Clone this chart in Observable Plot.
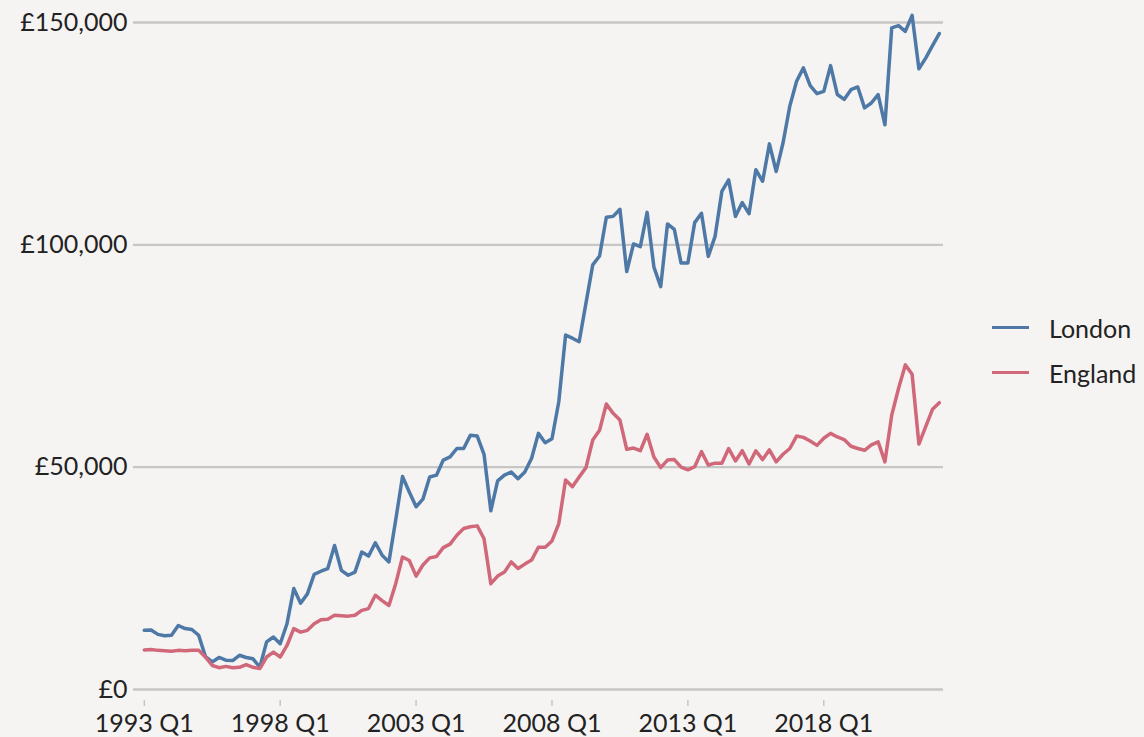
<!DOCTYPE html>
<html>
<head>
<meta charset="utf-8">
<script src="https://cdn.jsdelivr.net/npm/d3@7"></script>
<script src="https://cdn.jsdelivr.net/npm/@observablehq/plot@0.6"></script>
<style>
  html, body { margin: 0; padding: 0; background: #f5f4f2; }
  #wrap { position: relative; width: 1144px; height: 737px; overflow: hidden; font-family: Lato, "Open Sans", sans-serif; color: #222; }
  #legend { position: absolute; left: 992px; top: 305px; }
  .item { display: flex; align-items: center; height: 45px; font-size: 25px; }
  .sw { width: 37px; height: 3.5px; margin-right: 20px; }
</style>
</head>
<body>
<div id="wrap"><div id="chart"></div><div id="legend"></div></div>
<script>
// Quarterly series, 1993 Q1 .. 2022 Q2 (values in £)
const startYear = 1993;
const nQuarters = 118;
const tickLabels = ["1993 Q1", "1998 Q1", "2003 Q1", "2008 Q1", "2013 Q1", "2018 Q1"];
const yTicks = [0, 50000, 100000, 150000];
const seriesNames = ["London", "England"];
const seriesColors = ["#4e79a7", "#d0687a"];

const london = [
  13300, 13400, 12400, 12100, 12200, 14400, 13700, 13500, 12200, 7400,
  6200, 7200, 6600, 6500, 7700, 7200, 6900, 5000, 10700, 11800,
  10300, 14800, 22700, 19400, 21500, 25900, 26600, 27200, 32400, 26800,
  25700, 26400, 30900, 30000, 33000, 30200, 28700, 38100, 47900, 44400,
  41100, 42800, 47800, 48200, 51600, 52300, 54200, 54200, 57200, 57000,
  52900, 40200, 46900, 48200, 48900, 47400, 48900, 52000, 57600, 55500,
  56400, 64700, 79700, 79000, 78200, 86900, 95500, 97500, 106200, 106400,
  108000, 94000, 100200, 99600, 107300, 95000, 90600, 104700, 103500, 95900,
  95900, 105000, 107100, 97400, 101900, 112000, 114600, 106400, 109500, 107000,
  116900, 114300, 122700, 116500, 122900, 131200, 136800, 139800, 135800, 134000,
  134500, 140300, 133800, 132700, 134900, 135500, 130800, 131900, 133800, 127000,
  148800, 149300, 148000, 151600, 139600, 142000, 144800, 147500
];
const england = [
  8900, 9000, 8800, 8700, 8600, 8800, 8700, 8800, 8800, 7300,
  5400, 4900, 5200, 4900, 5000, 5600, 5000, 4700, 7300, 8400,
  7300, 9900, 13700, 12900, 13300, 14800, 15700, 15800, 16700, 16600,
  16500, 16700, 17800, 18200, 21200, 20000, 18900, 23800, 29800, 29000,
  25500, 28000, 29600, 29900, 31900, 32700, 34700, 36200, 36600, 36800,
  33900, 23800, 25500, 26400, 28700, 27200, 28200, 29100, 32000, 32000,
  33400, 37300, 47100, 45600, 47800, 49900, 56100, 58300, 64200, 62100,
  60600, 54000, 54300, 53700, 57400, 52300, 49900, 51600, 51700, 50000,
  49400, 50100, 53500, 50500, 50900, 50900, 54200, 51400, 53700, 50700,
  53700, 51700, 53900, 51200, 52900, 54200, 57000, 56700, 55900, 54900,
  56500, 57600, 56800, 56200, 54700, 54200, 53800, 55000, 55700, 51200,
  61700, 67700, 73000, 70900, 55200, 59100, 63000, 64500
];

// quarter labels
const quarters = [];
for (let k = 0; k < nQuarters; k++) {
  quarters.push(`${startYear + Math.floor(k / 4)} Q${(k % 4) + 1}`);
}

const seriesValues = [london, england];
const rows = [];
seriesNames.forEach((name, s) => {
  seriesValues[s].forEach((v, i) => rows.push({i, quarter: quarters[i], value: v, series: name}));
});

const tickIdx = tickLabels.map(l => quarters.indexOf(l));
const fmt = d3.format(",");

const chart = Plot.plot({
  width: 1144,
  height: 737,
  marginLeft: 133,
  marginRight: 201,
  marginTop: 22,
  marginBottom: 37,
  style: {background: "transparent", fontFamily: "Lato, 'Open Sans', sans-serif", fontSize: "25px", color: "#222"},
  x: {type: "linear", domain: [-1.59, 117.62], label: null},
  y: {domain: [0, 150000], insetBottom: 11, label: null},
  color: {domain: seriesNames, range: seriesColors},
  marks: [
    Plot.ruleY(yTicks, {stroke: "#c6c6c6", strokeWidth: 2.4}),
    Plot.axisY({ticks: yTicks, tickSize: 0, tickPadding: 6, tickFormat: d => "£" + fmt(d), label: null, fill: "#222"}),
    Plot.axisX({ticks: tickIdx, tickFormat: i => quarters[i], tickSize: 6, tickPadding: 8, stroke: "#c6c6c6", strokeWidth: 1.5, label: null, fill: "#222"}),
    Plot.line(rows, {x: "i", y: "value", z: "series", stroke: "series", strokeWidth: 3.5})
  ]
});
document.getElementById("chart").append(chart);

const legend = document.getElementById("legend");
seriesNames.forEach((name, s) => {
  const item = document.createElement("div");
  item.className = "item";
  const sw = document.createElement("div");
  sw.className = "sw";
  sw.style.background = seriesColors[s];
  const t = document.createElement("span");
  t.textContent = name;
  item.append(sw, t);
  legend.append(item);
});
</script>
</body>
</html>
